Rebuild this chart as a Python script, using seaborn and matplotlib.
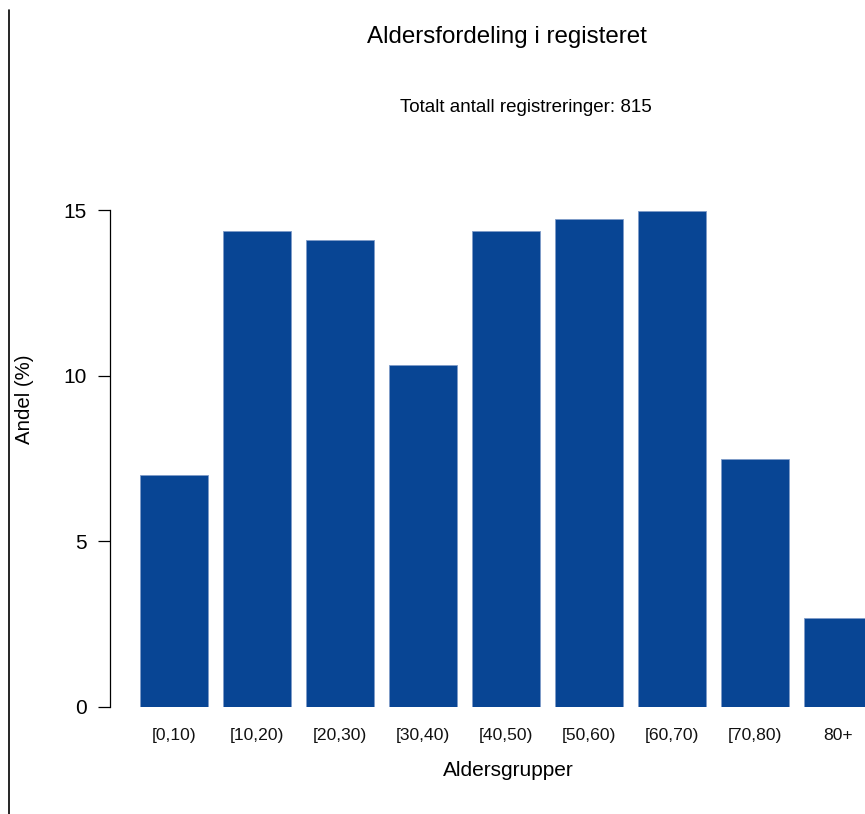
import matplotlib
matplotlib.use("Agg")
import matplotlib.pyplot as plt
import seaborn as sns
import pandas as pd
from matplotlib.lines import Line2D

categories = ["[0,10)", "[10,20)", "[20,30)", "[30,40)", "[40,50)", "[50,60)", "[60,70)", "[70,80)", "80+"]
andel = [6.99, 14.36, 14.11, 10.31, 14.36, 14.72, 14.97, 7.48, 2.70]
title = "Aldersfordeling i registeret"
subtitle = "Totalt antall registreringer: 815"
yticks = [0, 5, 10, 15]

sns.set_style("white")
plt.rcParams["font.family"] = ["Liberation Sans", "DejaVu Sans"]
plt.rcParams["text.color"] = "black"

W, H = 865, 814
fig = plt.figure(figsize=(W / 100, H / 100), dpi=100)

# axes in pixel coordinates
left_px, right_px, bottom_px, top_px = 110, 865, 707, 160
ax = fig.add_axes([left_px / W, (H - bottom_px) / H, (right_px - left_px) / W, (bottom_px - top_px) / H])

df = pd.DataFrame({"gruppe": categories, "andel": andel})
sns.barplot(data=df, x="gruppe", y="andel", order=categories, color="#084594",
            saturation=1, width=0.82, edgecolor="#7f9cc8", linewidth=0.6, ax=ax)

ax.set_xlim(-0.771, 8.325)
ax.set_ylim(0, (bottom_px - top_px) / 33.13)

for s in ["top", "right", "bottom"]:
    ax.spines[s].set_visible(False)
ax.spines["left"].set_bounds(0, 15)
ax.spines["left"].set_color("black")
ax.spines["left"].set_linewidth(0.9)

ax.set_yticks(yticks)
ax.set_yticklabels([str(t) for t in yticks], fontsize=15, color="black")
ax.tick_params(axis="y", direction="out", length=8.6, width=0.9, color="black", pad=8, left=True)
ax.tick_params(axis="x", length=0, pad=15, labelsize=12.6, labelcolor="#111111")

ax.set_xlabel("")
ax.set_ylabel("")
fig.text(508 / W, 1 - 771 / H, "Aldersgrupper", ha="center", va="center", fontsize=15, color="black")
fig.text(25 / W, 1 - 399 / H, "Andel (%)", rotation=90, ha="center", va="center", fontsize=14.7, color="black")

fig.text(507 / W, 1 - 37 / H, title, ha="center", va="center", fontsize=17.4, color="black")
fig.text(526 / W, 1 - 108 / H, subtitle, ha="center", va="center", fontsize=13.5, color="black")

# left border line of the frame
fig.add_artist(Line2D([8.5 / W, 8.5 / W], [0, 1 - 10 / H], transform=fig.transFigure, color="black", linewidth=1.2))

fig.savefig("out.png", dpi=100)
